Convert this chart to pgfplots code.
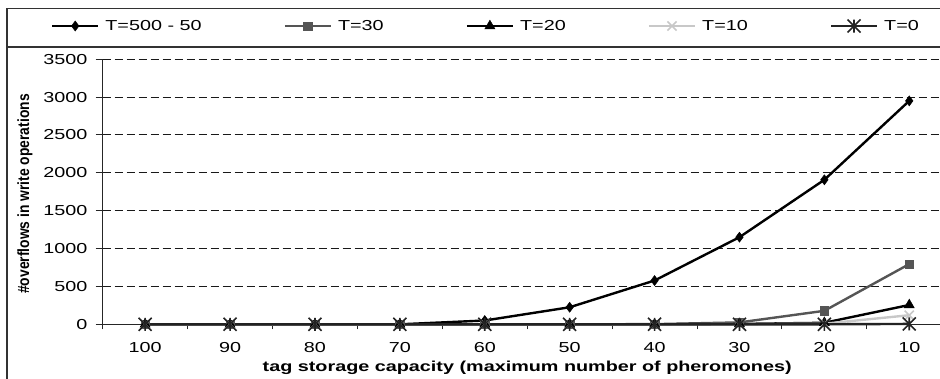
\documentclass[border=0pt]{standalone}
\usepackage{pgfplots}
\pgfplotsset{compat=1.18}
\usepackage{fontspec}
\setmainfont{Liberation Sans}
\newcommand{\sx}[1]{\scalebox{1.37}[1]{#1}}
\definecolor{cgray}{RGB}{85,85,85}
\definecolor{lgray}{RGB}{200,200,200}
\definecolor{dgray}{RGB}{35,35,35}
\definecolor{framec}{RGB}{50,50,50}
\pgfdeclareplotmark{xstar}{%
  \pgfpathmoveto{\pgfqpoint{-\pgfplotmarksize}{-\pgfplotmarksize}}%
  \pgfpathlineto{\pgfqpoint{\pgfplotmarksize}{\pgfplotmarksize}}%
  \pgfpathmoveto{\pgfqpoint{-\pgfplotmarksize}{\pgfplotmarksize}}%
  \pgfpathlineto{\pgfqpoint{\pgfplotmarksize}{-\pgfplotmarksize}}%
  \pgfpathmoveto{\pgfqpoint{0pt}{-\pgfplotmarksize}}%
  \pgfpathlineto{\pgfqpoint{0pt}{\pgfplotmarksize}}%
  \pgfusepathqstroke}
\begin{document}
\begin{tikzpicture}
\useasboundingbox (0,0) rectangle (940bp,379bp);
\begin{axis}[
  at={(102.7bp,54.7bp)}, anchor=south west,
  scale only axis, width=849bp, height=265.1bp,
  xmin=-0.5, xmax=9.5, ymin=0, ymax=3500,
  clip=false,
  axis x line=bottom, axis y line=left,
  axis line style={-, line width=1bp, black!85},
  xtick={0,...,9},
  xticklabels={\sx{100},\sx{90},\sx{80},\sx{70},\sx{60},\sx{50},\sx{40},\sx{30},\sx{20},\sx{10}},
  minor xtick={-0.5,0.5,...,9.5},
  ytick={0,500,...,3500},
  yticklabels={\sx{0},\sx{500},\sx{1000},\sx{1500},\sx{2000},\sx{2500},\sx{3000},\sx{3500}},
  tick align=outside,
  major tick length=7bp, minor tick length=5bp,
  major x tick style={draw=none},
  tick style={line width=1bp, black!85},
  ymajorgrids, major grid style={line width=0.9bp, black!90, dash pattern=on 8bp off 4bp},
  ticklabel style={font=\fontsize{14.5}{17}\selectfont, inner sep=0pt},
  xticklabel style={anchor=north, yshift=-11bp},
  yticklabel style={anchor=east, xshift=-8bp},
  every axis x label/.style={at={(axis description cs:0.5,-0.1648)}, anchor=center},
  every axis y label/.style={at={(axis description cs:-0.0915,0.4915)}, rotate=90, anchor=center},
  xlabel={\fontsize{14.5}{17}\selectfont\bfseries\sx{tag storage capacity (maximum number of pheromones)}},
  ylabel={\fontsize{13}{15}\selectfont\bfseries\scalebox{1.07}[1.25]{\#overflows in write operations}},
  legend columns=5,
  legend cell align=left,
  legend style={draw=none, fill=none, at={(axis description cs:-0.0609,1.1252)}, anchor=west,
    inner sep=0pt, outer sep=0pt,
    nodes={inner sep=0pt, outer sep=0pt, font=\fontsize{14.5}{17}\selectfont},
    /tikz/every odd column/.append style={column sep=6bp},
    /tikz/every even column/.append style={column sep=82bp}},
  legend image code/.code={\draw[mark repeat=2,mark phase=2,#1] plot coordinates {(0bp,0bp) (23bp,0bp) (46bp,0bp)};},
]
\addplot[black, line width=2.4bp, mark=diamond*, mark size=5bp, mark options={solid, line width=0.5bp}]
  coordinates {(0,0)(1,0)(2,0)(3,0)(4,50)(5,225)(6,578)(7,1150)(8,1908)(9,2950)};
\addlegendentry{\sx{T=500 - 50}}
\addplot[cgray, line width=2.4bp, mark=square*, mark size=4.2bp, mark options={solid, line width=0.5bp}]
  coordinates {(0,0)(1,0)(2,0)(3,0)(4,0)(5,0)(6,2)(7,25)(8,178)(9,795)};
\addlegendentry{\sx{T=30}}
\addplot[black, line width=2.4bp, mark=triangle*, mark size=5.8bp, mark options={solid, line width=0.5bp}]
  coordinates {(0,0)(1,0)(2,0)(3,0)(4,0)(5,0)(6,0)(7,5)(8,20)(9,255)};
\addlegendentry{\sx{T=20}}
\addplot[lgray, line width=2.4bp, mark=x, mark size=6.5bp, mark options={solid, line width=1.6bp}]
  coordinates {(0,0)(1,0)(2,0)(3,0)(4,0)(5,0)(6,0)(7,2)(8,8)(9,120)};
\addlegendentry{\sx{T=10}}
\addplot[dgray, line width=2.4bp, mark=xstar, mark size=6.5bp, mark options={solid, line width=1.6bp}]
  coordinates {(0,0)(1,0)(2,0)(3,0)(4,0)(5,0)(6,0)(7,0)(8,0)(9,5)};
\addlegendentry{\sx{T=0}}
\end{axis}
\draw[framec, line width=1.3bp] (7bp,-20bp) -- (7bp,370.7bp) -- (960bp,370.7bp);
\draw[framec, line width=1.3bp] (7bp,332bp) -- (960bp,332bp);
\end{tikzpicture}
\end{document}
